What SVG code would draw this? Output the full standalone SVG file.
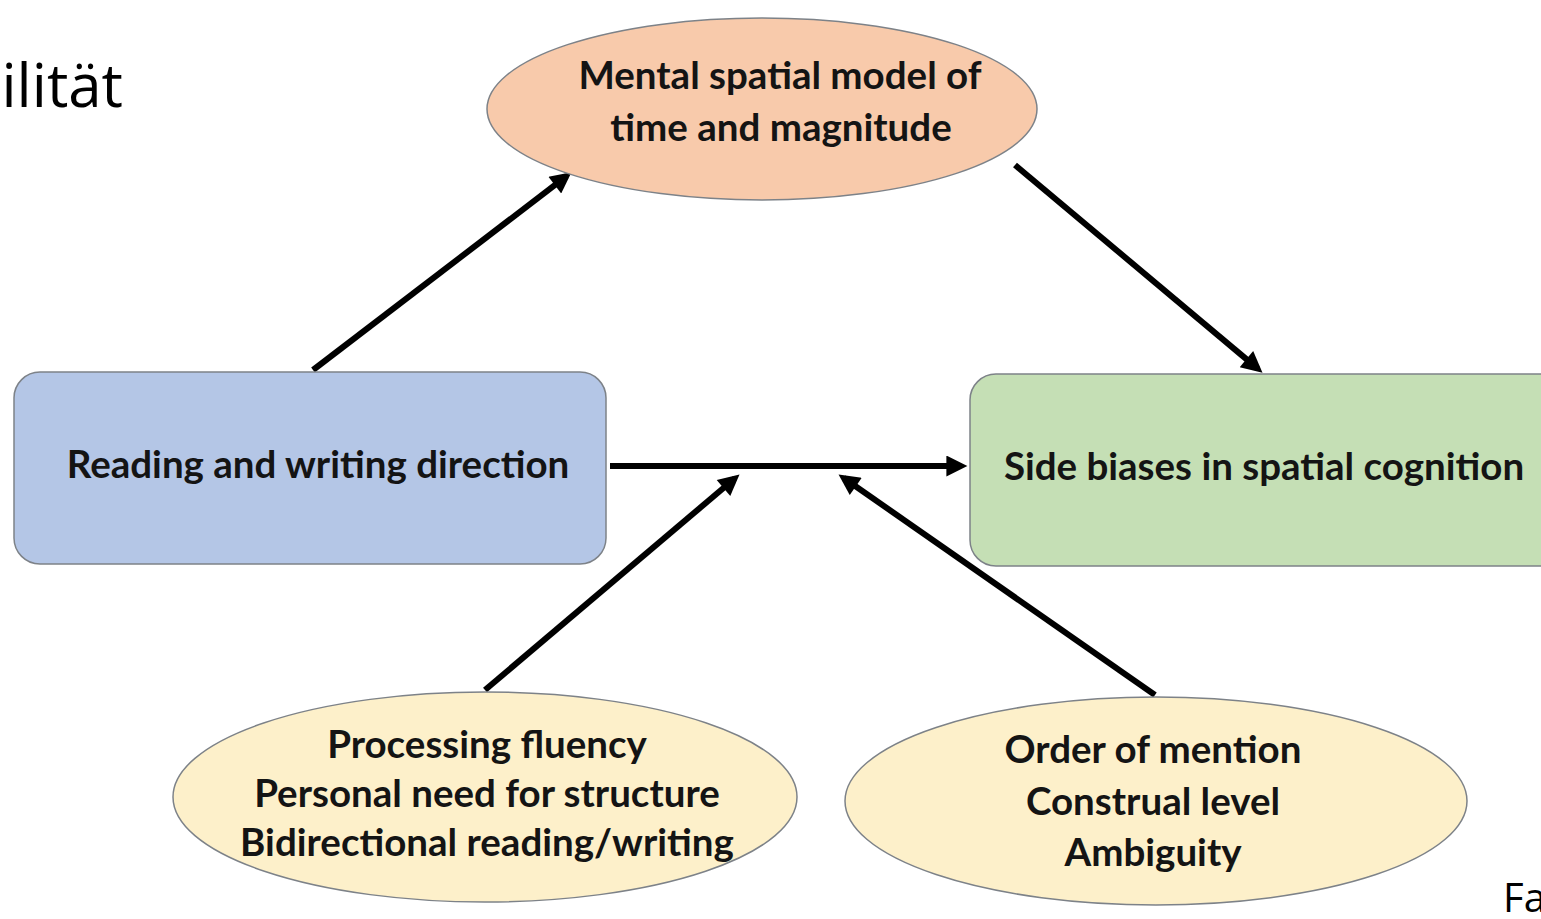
<svg xmlns="http://www.w3.org/2000/svg" width="1541" height="919" viewBox="0 0 1541 919">
<defs>
<marker id="ah" viewBox="0 0 10 10" refX="7" refY="5" markerWidth="3.9" markerHeight="3.5" markerUnits="strokeWidth" orient="auto">
<path d="M0,0 L10,5 L0,10 z" fill="#000"/>
</marker>
<style>
.node{stroke:#7d8288;stroke-width:1.5}
.lbl{font-family:Lato,"Open Sans","Liberation Sans",sans-serif;font-weight:bold;font-size:38.5px;fill:#141414;text-anchor:middle}
.conn{stroke:#000;stroke-width:6;fill:none;marker-end:url(#ah)}
.title{font-family:"Open Sans","Liberation Sans",sans-serif;fill:#000}
</style>
</defs>
<rect width="1541" height="919" fill="#fff"/>
<text class="title" x="123" y="107" font-size="60" text-anchor="end">ilität</text>
<text class="title" x="1503" y="912" font-size="40">Fa</text>
<g id="connectors">
<line class="conn" x1="313" y1="370" x2="566.5" y2="176.2"/>
<line class="conn" x1="1015" y1="165" x2="1257.7" y2="368.6"/>
<line class="conn" x1="610" y1="466" x2="961.1" y2="466"/>
<line class="conn" x1="485" y1="690" x2="734.7" y2="478.5"/>
<line class="conn" x1="1155" y1="695" x2="843.7" y2="478"/>
</g>
<g id="mental">
<ellipse class="node" cx="762" cy="109" rx="275" ry="91" fill="#f8caab"/>
<text class="lbl" x="780" y="89">Mental spatial model of</text>
<text class="lbl" x="781" y="141">time and magnitude</text>
</g>
<g id="reading">
<rect class="node" x="14" y="372" width="592" height="192" rx="26" fill="#b4c6e6"/>
<text class="lbl" x="318" y="478">Reading and writing direction</text>
</g>
<g id="side">
<rect class="node" x="970" y="374" width="600" height="192" rx="26" fill="#c5dfb5"/>
<text class="lbl" x="1264" y="480">Side biases in spatial cognition</text>
</g>
<g id="fluency">
<ellipse class="node" cx="485" cy="797" rx="312" ry="105" fill="#fdf0ca"/>
<text class="lbl" x="487" y="758">Processing fluency</text>
<text class="lbl" x="487" y="807">Personal need for structure</text>
<text class="lbl" x="487" y="856">Bidirectional reading/writing</text>
</g>
<g id="order">
<ellipse class="node" cx="1156" cy="801" rx="311" ry="104" fill="#fdf0ca"/>
<text class="lbl" x="1153" y="763">Order of mention</text>
<text class="lbl" x="1153" y="815">Construal level</text>
<text class="lbl" x="1153" y="866">Ambiguity</text>
</g>
</svg>
